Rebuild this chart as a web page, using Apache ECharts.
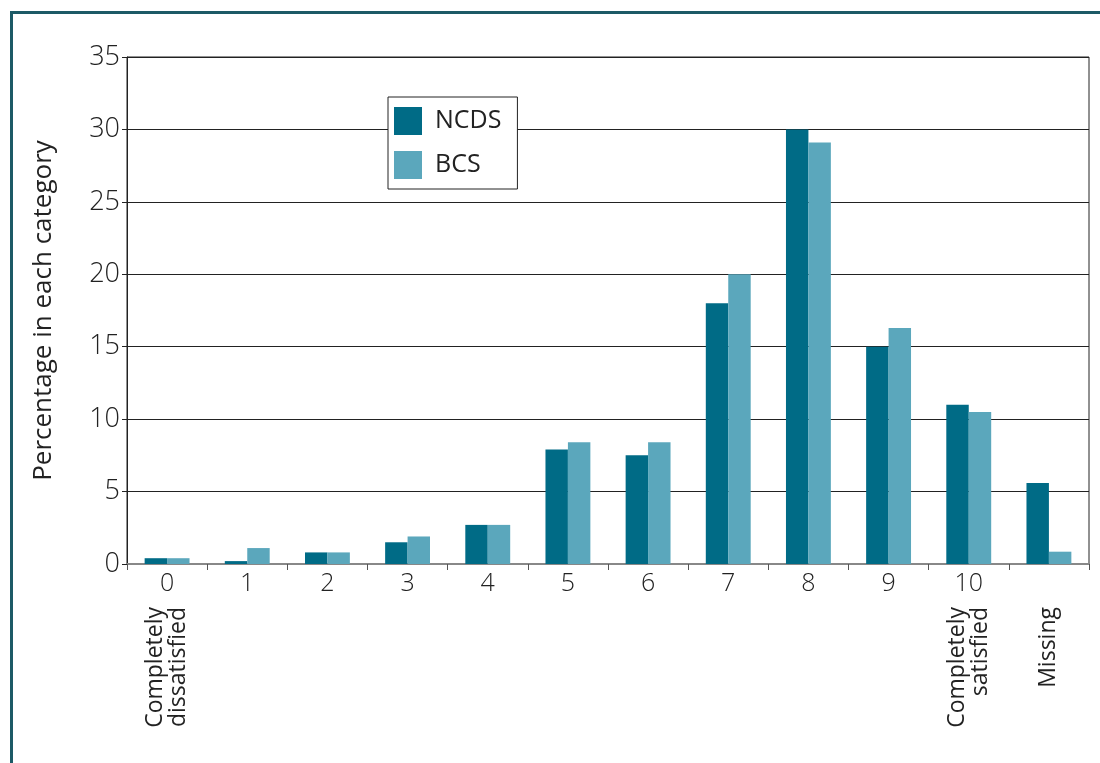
<!DOCTYPE html>
<html>
<head>
<meta charset="utf-8">
<script src="https://cdn.jsdelivr.net/npm/echarts@6/dist/echarts.min.js"></script>
<style>
  html, body { margin: 0; padding: 0; background: #fff; }
  #wrap { position: relative; width: 1100px; height: 763px; }
  #chart { width: 1100px; height: 763px; }
  #frame {
    position: absolute; left: 10px; top: 11px; right: 0; bottom: 0;
    border-top: 3px solid #1c5a66; border-left: 3px solid #1c5a66;
    pointer-events: none;
  }
</style>
</head>
<body>
<div id="wrap">
  <div id="chart"></div>
  <div id="frame"></div>
</div>
<script>
// score categories (numeric row) and the word labels under them
const scores = ['0', '1', '2', '3', '4', '5', '6', '7', '8', '9', '10', ''];
const scoreWords = ['Completely\ndissatisfied', '', '', '', '', '', '', '', '', '', 'Completely\nsatisfied', 'Missing'];

const ncds = [0.4, 0.2, 0.8, 1.5, 2.7, 7.9, 7.5, 18, 30, 15, 11, 5.6];
const bcs  = [0.4, 1.1, 0.8, 1.9, 2.7, 8.4, 8.4, 20, 29.1, 16.3, 10.5, 0.85];

const yTicks = { min: 0, max: 35, interval: 5 };

let myChart = echarts.init(document.querySelector('#chart'), null, { renderer: 'canvas' });

const font = '"Open Sans", "Noto Sans", sans-serif';

let option = {
  animation: false,
  textStyle: { fontFamily: font },
  grid: {
    left: 127, right: 11, top: 57, bottom: 199,
    show: true, borderColor: '#222', borderWidth: 1
  },
  legend: {
    data: ['NCDS', 'BCS'],
    orient: 'vertical',
    left: 388, top: 97,
    backgroundColor: '#fff',
    borderColor: '#222', borderWidth: 1,
    padding: [10, 16, 10, 6],
    itemWidth: 28, itemHeight: 28, itemGap: 16,
    icon: 'rect',
    textStyle: { fontSize: 25, color: '#222', fontFamily: font, padding: [0, 0, 0, 8] }
  },
  xAxis: [
    {
      type: 'category',
      data: scores,
      position: 'bottom',
      axisLine: { lineStyle: { color: '#888', width: 2 } },
      axisTick: { show: true, length: 6, lineStyle: { color: '#555' } },
      axisLabel: { fontSize: 25, fontWeight: 300, color: '#222', margin: 7, fontFamily: font }
    },
    {
      type: 'category',
      data: scoreWords,
      position: 'bottom',
      axisLine: { show: false },
      axisTick: { show: false },
      axisLabel: { rotate: 90, fontSize: 23, color: '#222', margin: 43, lineHeight: 23, fontFamily: font, interval: 0 }
    }
  ],
  yAxis: {
    type: 'value',
    min: yTicks.min, max: yTicks.max, interval: yTicks.interval,
    name: 'Percentage in each category',
    nameLocation: 'middle',
    nameGap: 70,
    nameTextStyle: { fontSize: 26, color: '#222', fontFamily: font },
    axisLine: { show: true, lineStyle: { color: '#222' } },
    axisTick: { show: true, length: 5, lineStyle: { color: '#222' } },
    axisLabel: { fontSize: 27, fontWeight: 300, color: '#222', margin: 7, fontFamily: font },
    splitLine: { lineStyle: { color: '#222', width: 1 } }
  },
  series: [
    {
      name: 'NCDS', type: 'bar', data: ncds,
      itemStyle: { color: '#006b86' },
      barGap: '0%', barCategoryGap: '44%'
    },
    {
      name: 'BCS', type: 'bar', data: bcs,
      itemStyle: { color: '#5ba7bc' },
      barGap: '0%', barCategoryGap: '44%'
    }
  ]
};

myChart.setOption(option);
</script>
</body>
</html>
